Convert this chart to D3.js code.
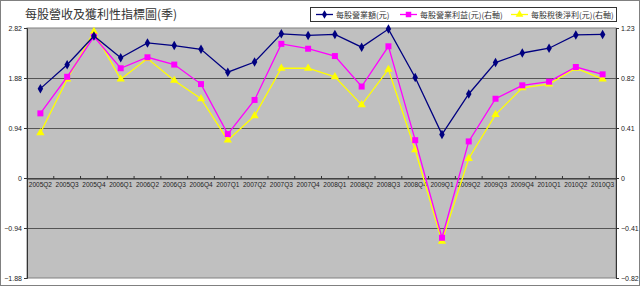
<!DOCTYPE html>
<html>
<head>
<meta charset="utf-8">
<script src="https://cdn.jsdelivr.net/npm/d3@7"></script>
<style>
  body { margin: 0; background: #fff; }
  svg { display: block; }
</style>
</head>
<body>
<div id="chart"></div>
<script>
// Quarters on the x axis
const quarters = ["2005Q2","2005Q3","2005Q4","2006Q1","2006Q2","2006Q3","2006Q4",
  "2007Q1","2007Q2","2007Q3","2007Q4","2008Q1","2008Q2","2008Q3","2008Q4",
  "2009Q1","2009Q2","2009Q3","2009Q4","2010Q1","2010Q2","2010Q3"];

// Revenue per share (left axis)
const revenue = [1.68, 2.13, 2.67, 2.26, 2.54, 2.49, 2.42, 1.99, 2.18, 2.71, 2.68, 2.70,
  2.46, 2.80, 1.89, 0.82, 1.58, 2.17, 2.35, 2.44, 2.69, 2.70];
// Operating profit per share (right axis)
const opProfit = [0.53, 0.83, 1.16, 0.90, 0.99, 0.93, 0.77, 0.36, 0.64, 1.10, 1.06, 1.00,
  0.75, 1.08, 0.31, -0.49, 0.30, 0.65, 0.76, 0.79, 0.91, 0.85];
// Net profit per share (right axis)
const netProfit = [0.37, 0.81, 1.20, 0.81, 0.98, 0.80, 0.65, 0.31, 0.51, 0.90, 0.90, 0.83,
  0.60, 0.89, 0.23, -0.52, 0.16, 0.52, 0.74, 0.77, 0.90, 0.81];

// Tick labels
const leftTicks = [-1.88, -0.94, 0, 0.94, 1.88, 2.82];
const rightTicks = [-0.82, -0.41, 0, 0.41, 0.82, 1.23];

const width = 640;
const height = 286;
const plot = { left: 27, right: 616, top: 28, bottom: 278 };

const svg = d3.select("#chart")
  .append("svg")
  .attr("width", width)
  .attr("height", height)
  .style("font-family", "Liberation Serif");

// Outer frame
svg.append("rect")
  .attr("x", 0.5).attr("y", 0.5)
  .attr("width", width - 1).attr("height", height - 1)
  .attr("fill", "#fff")
  .attr("stroke", "#808080");

// Scales
const x = d3.scaleBand()
  .domain(quarters)
  .range([plot.left, plot.right]);

const yLeft = d3.scaleLinear()
  .domain([-1.88, 2.82])
  .range([plot.bottom, plot.top]);

const yRight = d3.scaleLinear()
  .domain([-0.82, 1.23])
  .range([plot.bottom, plot.top]);

// Plot background
svg.append("rect")
  .attr("x", plot.left).attr("y", plot.top)
  .attr("width", plot.right - plot.left)
  .attr("height", plot.bottom - plot.top)
  .attr("fill", "#C0C0C0")
  .attr("stroke", "#808080");

// Gridlines
svg.append("g")
  .selectAll("line")
  .data(leftTicks.filter(d => d > -1.88 && d < 2.82))
  .join("line")
  .attr("x1", plot.left).attr("x2", plot.right)
  .attr("y1", d => Math.round(yLeft(d)) + 0.5)
  .attr("y2", d => Math.round(yLeft(d)) + 0.5)
  .attr("stroke", "#555")
  .attr("stroke-width", 1.2);

// Left axis
const leftAxis = svg.append("g")
  .attr("transform", `translate(${plot.left},0)`)
  .call(d3.axisLeft(yLeft).tickValues(leftTicks).tickSize(3).tickFormat(d => d === 0 ? "0" : d3.format(".2f")(d)));
leftAxis.select(".domain").attr("stroke", "#333");
leftAxis.selectAll("line").attr("stroke", "#333");
leftAxis.selectAll("text")
  .attr("font-size", "7px")
  .attr("fill", "#222")
  .attr("x", -5);

// Right axis
const rightAxis = svg.append("g")
  .attr("transform", `translate(${plot.right},0)`)
  .call(d3.axisRight(yRight).tickValues(rightTicks).tickSize(3).tickFormat(d => d === 0 ? "0" : d3.format(".2f")(d)));
rightAxis.select(".domain").attr("stroke", "#333");
rightAxis.selectAll("line").attr("stroke", "#333");
rightAxis.selectAll("text")
  .attr("font-size", "7px")
  .attr("fill", "#222")
  .attr("x", 5);

// Category axis crossing at zero
const xAxis = svg.append("g")
  .attr("transform", `translate(0,${Math.round(yLeft(0)) + 0.5})`)
  .call(d3.axisBottom(x).tickSize(0).tickSizeOuter(0));
xAxis.select(".domain").attr("stroke", "#333").attr("stroke-width", 1.2);
xAxis.selectAll("text")
  .attr("font-size", "6.5px")
  .attr("fill", "#222")
  .attr("dy", "0.9em");

// Band tick marks
svg.append("g")
  .selectAll("line")
  .data(quarters.slice(1))
  .join("line")
  .attr("x1", d => x(d)).attr("x2", d => x(d))
  .attr("y1", Math.round(yLeft(0)) - 2)
  .attr("y2", Math.round(yLeft(0)) + 1)
  .attr("stroke", "#333");

const cx = d => x(d) + x.bandwidth() / 2;

// Draw a series
function drawSeries(values, scale, color, symbol, size) {
  const line = d3.line()
    .x((d, i) => cx(quarters[i]))
    .y(d => scale(d));

  svg.append("path")
    .datum(values)
    .attr("d", line)
    .attr("fill", "none")
    .attr("stroke", color)
    .attr("stroke-width", 1.3);

  svg.append("g")
    .selectAll("path")
    .data(values)
    .join("path")
    .attr("transform", (d, i) => `translate(${cx(quarters[i])},${scale(d)})`)
    .attr("d", d3.symbol().type(symbol).size(size))
    .attr("fill", color);
}

drawSeries(netProfit, yRight, "#FFFF00", d3.symbolTriangle, 30);
drawSeries(opProfit, yRight, "#FF00FF", d3.symbolSquare, 36);
drawSeries(revenue, yLeft, "#000080", d3.symbolDiamond, 26);

// Title
svg.append("text")
  .attr("x", 25).attr("y", 19)
  .attr("font-size", "12px")
  .attr("font-family", "Noto Sans CJK TC")
  .attr("fill", "#333")
  .text("每股營收及獲利性指標圖(季)");

// Legend
const legend = svg.append("g");
legend.append("rect")
  .attr("x", 310.5).attr("y", 7.5)
  .attr("width", 306).attr("height", 14)
  .attr("fill", "#fff")
  .attr("stroke", "#333");

const legendItems = [
  { label: "每股營業額(元)", color: "#000080", symbol: d3.symbolDiamond, size: 22, x: 316 },
  { label: "每股營業利益(元)(右軸)", color: "#FF00FF", symbol: d3.symbolSquare, size: 30, x: 400 },
  { label: "每股稅後淨利(元)(右軸)", color: "#FFFF00", symbol: d3.symbolTriangle, size: 26, x: 511 }
];

const li = legend.selectAll("g.item")
  .data(legendItems)
  .join("g")
  .attr("class", "item")
  .attr("transform", d => `translate(${d.x},14.5)`);

li.append("line")
  .attr("x1", 0).attr("x2", 17)
  .attr("stroke", d => d.color)
  .attr("stroke-width", 1.3);

li.append("path")
  .attr("transform", "translate(8.5,0)")
  .attr("d", d => d3.symbol().type(d.symbol).size(d.size)())
  .attr("fill", d => d.color);

li.append("text")
  .attr("x", 20).attr("y", 3)
  .attr("font-size", "8px")
  .attr("font-family", "Noto Sans CJK TC")
  .attr("fill", "#333")
  .text(d => d.label);
</script>
</body>
</html>
